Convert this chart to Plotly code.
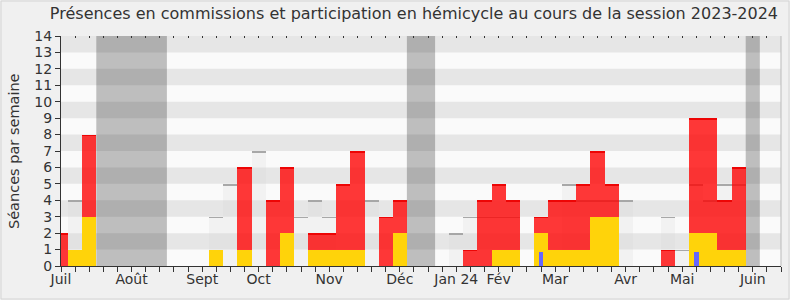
import plotly.graph_objects as go

# Week index 0..51 (one bar per week)
weeks = list(range(52))

# Values per week
red_vals = {0: 2, 2: 8, 13: 6, 15: 4, 16: 6, 18: 2, 19: 2, 20: 5, 21: 7, 23: 3, 24: 4,
            29: 1, 30: 4, 31: 5, 32: 4, 34: 3, 35: 4, 36: 4, 37: 5, 38: 7, 39: 5,
            43: 1, 45: 9, 46: 9, 47: 4, 48: 6}
yellow_vals = {1: 1, 2: 3, 11: 1, 13: 1, 16: 2, 18: 1, 19: 1, 20: 1, 21: 1, 24: 2,
               31: 1, 32: 1, 34: 2, 35: 1, 36: 1, 37: 1, 38: 3, 39: 3, 45: 2, 46: 2,
               47: 1, 48: 1}
gray_vals = {1: 4, 11: 3, 12: 5, 14: 7, 17: 3, 18: 4, 19: 3, 22: 4, 28: 2, 29: 3,
             30: 3, 31: 3, 32: 3, 36: 5, 37: 4, 38: 4, 39: 4, 40: 4, 43: 3, 44: 1,
             45: 5, 46: 4, 47: 5, 48: 5}
blue_vals = {34: 0.85, 45: 0.85}

presences = [red_vals.get(w, 0) for w in weeks]
hemicycle = [yellow_vals.get(w, 0) for w in weeks]
mediane = [gray_vals.get(w, 0) for w in weeks]
interventions = [blue_vals.get(w, 0) for w in weeks]

month_pos = [0, 5, 10, 14, 19, 24, 28, 31, 35, 40, 44, 49]
month_labels = ["Juil", "Août", "Sept", "Oct", "Nov", "Déc", "Jan 24", "Fév",
                "Mar", "Avr", "Mai", "Juin"]
vacations = [(2.5, 7.5), (24.5, 26.5), (48.5, 49.5)]

EDGE = 0.1

fig = go.Figure()

def xs(vals):
    return [w for w, v in zip(weeks, vals) if v > 0]

def ys(vals):
    return [v for v in vals if v > 0]

# median (gray) bars
fig.add_trace(go.Bar(x=xs(mediane), y=ys(mediane), width=1,
                     marker=dict(color="rgba(215,215,215,0.22)", line=dict(width=0)),
                     hoverinfo="skip", showlegend=False))
fig.add_trace(go.Bar(x=xs(mediane), y=[EDGE] * len(ys(mediane)),
                     base=[v - EDGE for v in ys(mediane)], width=1,
                     marker=dict(color="rgba(160,160,160,0.9)", line=dict(width=0)),
                     hoverinfo="skip", showlegend=False))
# red bars
fig.add_trace(go.Bar(x=xs(presences), y=ys(presences), width=1,
                     marker=dict(color="rgba(255,0,0,0.78)", line=dict(width=0)),
                     showlegend=False))
fig.add_trace(go.Bar(x=xs(presences), y=[EDGE] * len(ys(presences)),
                     base=[v - EDGE for v in ys(presences)], width=1,
                     marker=dict(color="rgba(235,0,0,0.9)", line=dict(width=0)),
                     hoverinfo="skip", showlegend=False))
# yellow bars
fig.add_trace(go.Bar(x=xs(hemicycle), y=ys(hemicycle), width=1,
                     marker=dict(color="#ffd30a", line=dict(width=0)),
                     showlegend=False))
# blue bars
fig.add_trace(go.Bar(x=xs(interventions), y=ys(interventions), width=0.35,
                     marker=dict(color="#6666ff", line=dict(width=0)),
                     showlegend=False))
# dummy trace for top tick axis
fig.add_trace(go.Scatter(x=[0], y=[0], xaxis="x2", mode="markers",
                         marker=dict(opacity=0), hoverinfo="skip", showlegend=False))

shapes = []
for a, b in vacations:
    shapes.append(dict(type="rect", xref="x", yref="paper", x0=a, x1=b, y0=0, y1=1,
                       fillcolor="#bebebe", line=dict(width=0), layer="below"))
for k in range(1, 14, 2):
    shapes.append(dict(type="rect", xref="paper", yref="y", x0=0, x1=1, y0=k, y1=k + 1,
                       fillcolor="rgba(0,0,0,0.08)", line=dict(width=0), layer="below"))
shapes.append(dict(type="line", xref="paper", yref="paper", x0=1, x1=1, y0=0, y1=1,
                   line=dict(color="#bbbbbb", width=1)))
# figure border
L, R, T, B = 61, 9, 36, 34
PW, PH = 790 - L - R, 300 - T - B
shapes.append(dict(type="rect", xref="paper", yref="paper",
                   x0=(1 - L) / PW, x1=(790 - L - 1) / PW,
                   y0=-(B - 1) / PH, y1=1 + (T - 1) / PH,
                   line=dict(color="#d4d4d4", width=1), fillcolor="rgba(0,0,0,0)",
                   layer="below"))

fig.update_layout(
    width=790, height=300,
    margin=dict(l=L, r=R, t=T, b=B),
    paper_bgcolor="#f0f0f0", plot_bgcolor="#fafafa",
    barmode="overlay", bargap=0,
    font=dict(family="DejaVu Sans", size=14, color="#333333"),
    title=dict(text="Présences en commissions et participation en hémicycle au cours de la session 2023-2024",
               x=0.524, xref="container", xanchor="center",
               y=0.955, yref="container", yanchor="middle",
               font=dict(size=16, color="#333333")),
    xaxis=dict(range=[0, 51], tickvals=month_pos, ticktext=month_labels,
               ticks="outside", ticklen=5, tickcolor="#333333", showgrid=False,
               showline=True, linecolor="#333333", linewidth=1, zeroline=False,
               minor=dict(dtick=1, tick0=0, ticks="outside", ticklen=5,
                          tickcolor="#333333", showgrid=False),
               tickfont=dict(size=14), ticklabelstandoff=-5, fixedrange=True),
    xaxis2=dict(range=[0, 51], overlaying="x", side="top", dtick=1, tick0=0,
                ticks="inside", ticklen=2, tickcolor="#333333",
                showticklabels=False, showgrid=False, showline=False, zeroline=False),
    yaxis=dict(range=[0, 14], dtick=1, ticks="outside", ticklen=5, tickcolor="#333333",
               showgrid=False, showline=True, linecolor="#333333", linewidth=1,
               zeroline=False, tickfont=dict(size=14), fixedrange=True),
    shapes=shapes,
    annotations=[dict(text="Séances par semaine", xref="paper", yref="paper",
                      x=(14 - L) / PW, y=0.5, textangle=-90, showarrow=False,
                      xanchor="center", yanchor="middle",
                      font=dict(size=14.5, color="#333333"))],
)

fig.write_html("out.html")
